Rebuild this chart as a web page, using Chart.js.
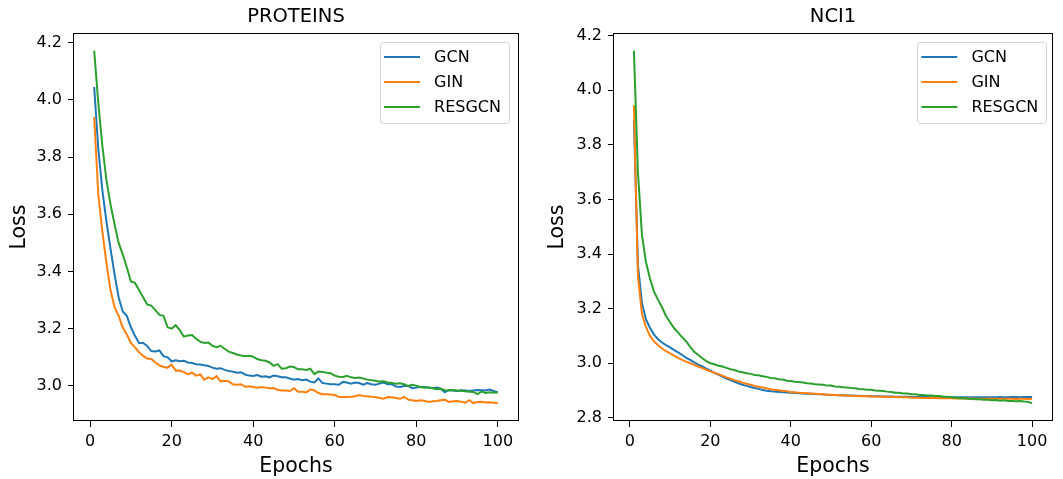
<!DOCTYPE html>
<html>
<head>
<meta charset="utf-8">
<script src="https://cdn.jsdelivr.net/npm/chart.js@4.4.1/dist/chart.umd.min.js"></script>
<style>
  body { margin: 0; background: #fff; }
  #wrap { position: relative; width: 1063px; height: 479px; }
  canvas { position: absolute; top: 0; }
  #proteins { left: 0; }
  #nci1 { left: 531px; }
</style>
</head>
<body>
<div id="wrap">
  <canvas id="proteins" width="531" height="479"></canvas>
  <canvas id="nci1" width="532" height="479"></canvas>
</div>
<script>
// training epochs 1..100 (x positions)
const epochs = Array.from({ length: 100 }, (_, i) => i + 1);
const seriesNames = ['GCN', 'GIN', 'RESGCN'];
const seriesColors = ['#1f77b4', '#ff7f0e', '#2ca02c'];
const epochTicks = [0, 20, 40, 60, 80, 100];
const proteinsLossTicks = [3.0, 3.2, 3.4, 3.6, 3.8, 4.0, 4.2];
const nci1LossTicks = [2.8, 3.0, 3.2, 3.4, 3.6, 3.8, 4.0, 4.2];

const proteinsGcn = [
  4.045, 3.830, 3.685, 3.575, 3.480, 3.390, 3.310, 3.260, 3.245, 3.205,
  3.175, 3.150, 3.150, 3.140, 3.122, 3.120, 3.124, 3.104, 3.100, 3.086,
  3.090, 3.086, 3.088, 3.082, 3.080, 3.076, 3.075, 3.072, 3.070, 3.064,
  3.060, 3.062, 3.056, 3.052, 3.050, 3.046, 3.048, 3.040, 3.036, 3.035,
  3.038, 3.032, 3.034, 3.030, 3.036, 3.034, 3.030, 3.030, 3.026, 3.022,
  3.024, 3.020, 3.022, 3.015, 3.012, 3.026, 3.010, 3.008, 3.006, 3.006,
  3.004, 3.014, 3.012, 3.008, 3.012, 3.010, 3.004, 3.010, 3.006, 3.004,
  3.008, 3.012, 3.006, 3.006, 2.998, 2.996, 3.000, 3.000, 2.992, 2.994,
  2.996, 2.996, 2.994, 2.992, 2.994, 2.990, 2.978, 2.986, 2.984, 2.982,
  2.985, 2.984, 2.982, 2.984, 2.986, 2.985, 2.984, 2.987, 2.982, 2.977
];
const proteinsGin = [
  3.940, 3.670, 3.540, 3.430, 3.335, 3.275, 3.245, 3.205, 3.180, 3.150,
  3.135, 3.118, 3.105, 3.096, 3.094, 3.082, 3.072, 3.066, 3.064, 3.074,
  3.053, 3.054, 3.048, 3.040, 3.046, 3.036, 3.040, 3.022, 3.030, 3.024,
  3.034, 3.016, 3.018, 3.016, 3.006, 3.004, 3.006, 2.997, 2.999, 2.996,
  2.994, 2.996, 2.994, 2.992, 2.993, 2.986, 2.984, 2.984, 2.982, 2.992,
  2.980, 2.980, 2.977, 2.988, 2.984, 2.975, 2.971, 2.971, 2.970, 2.968,
  2.962, 2.961, 2.961, 2.962, 2.964, 2.968, 2.965, 2.964, 2.962, 2.961,
  2.958, 2.955, 2.961, 2.960, 2.958, 2.955, 2.962, 2.952, 2.950, 2.947,
  2.950, 2.948, 2.944, 2.946, 2.947, 2.950, 2.952, 2.944, 2.946, 2.947,
  2.945, 2.941, 2.950, 2.940, 2.944, 2.945, 2.942, 2.943, 2.941, 2.939
];
const proteinsResgcn = [
  4.172, 3.990, 3.840, 3.720, 3.635, 3.565, 3.500, 3.460, 3.415, 3.365,
  3.360, 3.335, 3.310, 3.285, 3.281, 3.265, 3.248, 3.245, 3.205, 3.200,
  3.212, 3.195, 3.172, 3.176, 3.178, 3.165, 3.155, 3.150, 3.152, 3.140,
  3.135, 3.140, 3.130, 3.120, 3.115, 3.110, 3.106, 3.104, 3.105, 3.102,
  3.094, 3.090, 3.088, 3.082, 3.070, 3.076, 3.060, 3.062, 3.068, 3.066,
  3.058, 3.058, 3.056, 3.060, 3.041, 3.050, 3.049, 3.046, 3.044, 3.036,
  3.032, 3.031, 3.035, 3.030, 3.028, 3.029, 3.026, 3.022, 3.020, 3.018,
  3.015, 3.016, 3.012, 3.010, 3.008, 3.009, 3.006, 3.000, 3.004, 3.001,
  2.996, 2.994, 2.995, 2.992, 2.988, 2.990, 2.985, 2.984, 2.986, 2.984,
  2.983, 2.981, 2.980, 2.979, 2.971, 2.980, 2.975, 2.978, 2.976, 2.978
];

const nci1Gcn = [
  3.890, 3.360, 3.220, 3.160, 3.130, 3.105, 3.088, 3.076, 3.066, 3.058,
  3.048, 3.040, 3.030, 3.020, 3.012, 3.003, 2.995, 2.988, 2.980, 2.973,
  2.965, 2.958, 2.951, 2.944, 2.938, 2.932, 2.926, 2.921, 2.917, 2.913,
  2.909, 2.906, 2.902, 2.899, 2.897, 2.896, 2.895, 2.894, 2.893, 2.892,
  2.891, 2.890, 2.889, 2.888, 2.888, 2.887, 2.886, 2.886, 2.885, 2.884,
  2.884, 2.883, 2.883, 2.882, 2.882, 2.881, 2.881, 2.880, 2.880, 2.879,
  2.879, 2.879, 2.878, 2.878, 2.878, 2.877, 2.877, 2.877, 2.877, 2.876,
  2.876, 2.876, 2.876, 2.876, 2.875, 2.875, 2.875, 2.875, 2.875, 2.875,
  2.875, 2.875, 2.875, 2.875, 2.875, 2.875, 2.875, 2.875, 2.875, 2.875,
  2.875, 2.876, 2.875, 2.875, 2.876, 2.876, 2.875, 2.876, 2.876, 2.876
];
const nci1Gin = [
  3.945, 3.320, 3.180, 3.132, 3.100, 3.080, 3.066, 3.054, 3.044, 3.036,
  3.028, 3.020, 3.012, 3.006, 3.000, 2.994, 2.988, 2.982, 2.976, 2.970,
  2.965, 2.960, 2.954, 2.948, 2.943, 2.938, 2.934, 2.929, 2.925, 2.921,
  2.917, 2.914, 2.911, 2.908, 2.905, 2.903, 2.901, 2.899, 2.897, 2.895,
  2.894, 2.892, 2.891, 2.890, 2.889, 2.888, 2.887, 2.886, 2.885, 2.885,
  2.884, 2.883, 2.882, 2.882, 2.881, 2.880, 2.880, 2.879, 2.879, 2.878,
  2.878, 2.877, 2.877, 2.876, 2.876, 2.876, 2.875, 2.875, 2.875, 2.874,
  2.874, 2.874, 2.873, 2.873, 2.873, 2.873, 2.872, 2.872, 2.872, 2.872,
  2.871, 2.871, 2.871, 2.871, 2.871, 2.870, 2.870, 2.870, 2.870, 2.870,
  2.870, 2.870, 2.870, 2.870, 2.870, 2.869, 2.870, 2.870, 2.869, 2.870
];
const nci1Resgcn = [
  4.145, 3.700, 3.470, 3.370, 3.310, 3.262, 3.232, 3.205, 3.172, 3.150,
  3.128, 3.112, 3.095, 3.080, 3.060, 3.042, 3.030, 3.018, 3.008, 3.000,
  2.996, 2.991, 2.988, 2.983, 2.978, 2.975, 2.970, 2.967, 2.963, 2.961,
  2.957, 2.956, 2.952, 2.950, 2.946, 2.945, 2.941, 2.940, 2.936, 2.935,
  2.932, 2.931, 2.929, 2.927, 2.926, 2.923, 2.922, 2.921, 2.918, 2.918,
  2.915, 2.914, 2.912, 2.911, 2.909, 2.908, 2.906, 2.905, 2.903, 2.903,
  2.900, 2.899, 2.898, 2.896, 2.895, 2.892, 2.892, 2.889, 2.889, 2.886,
  2.886, 2.884, 2.884, 2.882, 2.882, 2.880, 2.880, 2.877, 2.877, 2.875,
  2.874, 2.872, 2.872, 2.870, 2.869, 2.868, 2.868, 2.866, 2.866, 2.864,
  2.865, 2.863, 2.864, 2.862, 2.862, 2.861, 2.862, 2.860, 2.859, 2.853
];

const FONT = 'DejaVu Sans';
Chart.defaults.font.family = FONT;
Chart.defaults.color = '#000';

// four spines plus a boxed legend in the upper right corner of the plot area
const frameAndLegend = {
  id: 'frameAndLegend',
  afterDatasetsDraw(chart, args, opts) {
    const { ctx, chartArea: a } = chart;
    ctx.save();
    ctx.strokeStyle = '#000';
    ctx.lineWidth = 1;
    ctx.strokeRect(Math.round(a.left) - 0.5, Math.round(a.top) + 0.5,
      Math.round(a.right - a.left) + 1, Math.round(a.bottom - a.top) - 1);

    ctx.font = '16px "' + FONT + '"';
    const textW = Math.max(...seriesNames.map(n => ctx.measureText(n).width));
    const w = 54 + textW + 8;
    const h = 81;
    const x0 = a.right - opts.inset - w;
    const y0 = a.top + 9;
    ctx.beginPath();
    ctx.roundRect(Math.round(x0) + 0.5, Math.round(y0) + 0.5, Math.round(w), h, 3);
    ctx.fillStyle = 'rgba(255,255,255,0.8)';
    ctx.fill();
    ctx.strokeStyle = '#d4d4d4';
    ctx.stroke();

    ctx.textBaseline = 'middle';
    ctx.textAlign = 'left';
    seriesNames.forEach((name, i) => {
      const y = y0 + 15 + i * 25;
      ctx.strokeStyle = seriesColors[i];
      ctx.lineWidth = 2;
      ctx.beginPath();
      ctx.moveTo(x0 + 4, y);
      ctx.lineTo(x0 + 40, y);
      ctx.stroke();
      ctx.fillStyle = '#000';
      ctx.fillText(name, x0 + 54, y + 1);
    });
    ctx.restore();
  }
};

function makeChart(id, title, series, lossTicks, yAxisWidth, yTitlePad, padRight, legendInset) {
  const all = series.flat();
  const lo = Math.min(...all), hi = Math.max(...all);
  const yPad = (hi - lo) * 0.05;

  const datasets = series.map((vals, i) => ({
    label: seriesNames[i],
    data: vals.map((v, j) => ({ x: epochs[j], y: v })),
    borderColor: seriesColors[i],
    borderWidth: 2,
    pointRadius: 0,
    tension: 0,
    fill: false,
    order: series.length - i
  }));

  return new Chart(document.getElementById(id), {
    type: 'line',
    data: { datasets },
    options: {
      responsive: false,
      animation: false,
      devicePixelRatio: 1,
      layout: { padding: { left: 0, right: padRight, top: 0, bottom: 0 } },
      plugins: {
        legend: { display: false },
        tooltip: { enabled: false },
        title: {
          display: true,
          text: title,
          fullSize: false,
          color: '#000',
          font: { size: 19.5, weight: 'normal' },
          padding: { top: 5, bottom: 4.6 }
        },
        frameAndLegend: { inset: legendInset }
      },
      scales: {
        x: {
          type: 'linear',
          bounds: 'data',
          min: 1 - 99 * 0.05,
          max: 100 + 99 * 0.05,
          afterBuildTicks: s => { s.ticks = epochTicks.map(v => ({ value: v })); },
          afterFit: s => { s.height = 58; },
          grid: { display: true, drawOnChartArea: false, drawTicks: true, tickLength: 6, color: '#000' },
          border: { display: false },
          ticks: { padding: 5, maxRotation: 0, font: { size: 16 }, color: '#000', callback: v => String(v) },
          title: { display: true, text: 'Epochs', font: { size: 20.5 }, color: '#000', padding: { top: 0, bottom: 0 } }
        },
        y: {
          type: 'linear',
          bounds: 'data',
          min: lo - yPad,
          max: hi + yPad,
          afterBuildTicks: s => { s.ticks = lossTicks.map(v => ({ value: v })); },
          afterFit: s => { s.width = yAxisWidth; },
          grid: { display: true, drawOnChartArea: false, drawTicks: true, tickLength: 6, color: '#000' },
          border: { display: false },
          ticks: { padding: 6, font: { size: 16 }, color: '#000', callback: v => v.toFixed(1) },
          title: { display: true, text: 'Loss', font: { size: 20.5 }, color: '#000', padding: { top: yTitlePad, bottom: 0 } }
        }
      }
    },
    plugins: [frameAndLegend]
  });
}

makeChart('proteins', 'PROTEINS', [proteinsGcn, proteinsGin, proteinsResgcn], proteinsLossTicks, 74, 7, 13, 9);
makeChart('nci1', 'NCI1', [nci1Gcn, nci1Gin, nci1Resgcn], nci1LossTicks, 83, 14.7, 11, 5.7);
</script>
</body>
</html>
